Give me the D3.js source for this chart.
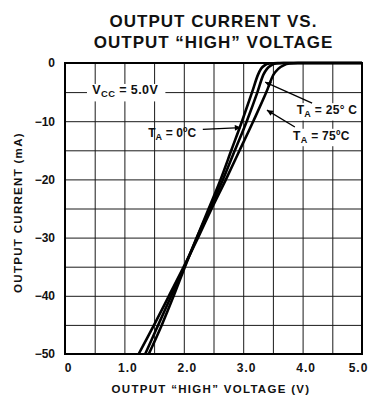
<!DOCTYPE html>
<html>
<head>
<meta charset="utf-8">
<script src="https://cdn.jsdelivr.net/npm/d3@7"></script>
<style>
  html, body { margin: 0; padding: 0; background: #fff; }
  svg { display: block; font-family: "Liberation Sans", Arial, Helvetica, sans-serif; }
</style>
</head>
<body>
<svg id="chart" width="371" height="399"></svg>
<script>
// ---- data ----
const titleLines = ["OUTPUT CURRENT VS.", "OUTPUT \u201CHIGH\u201D VOLTAGE"];
const xAxisTitle = "OUTPUT \u201CHIGH\u201D VOLTAGE (V)";
const yAxisTitle = "OUTPUT CURRENT (mA)";
const xTickValues = [0, 1, 2, 3, 4, 5];
const xTickLabels = ["0", "1.0", "2.0", "3.0", "4.0", "5.0"];
const yTickValues = [0, -10, -20, -30, -40, -50];
const yTickLabels = ["0", "\u221210", "\u221220", "\u221230", "\u221240", "\u221250"];

// output current levels (mA) shared by the three curves
const currentLevels = [-50, -45, -40, -35, -30, -25, -20, -15, -10, -5, -2, -1, -0.4, -0.1, 0, 0];
// output high voltage (V) at each current level
const volts0C  = [1.41, 1.63, 1.83, 2.02, 2.22, 2.42, 2.62, 2.80, 2.98, 3.15, 3.25, 3.30, 3.36, 3.44, 3.58, 5.0];
const volts25C = [1.35, 1.57, 1.79, 2.01, 2.22, 2.44, 2.66, 2.86, 3.06, 3.24, 3.34, 3.40, 3.47, 3.55, 3.68, 5.0];
const volts75C = [1.24, 1.50, 1.75, 2.00, 2.24, 2.47, 2.71, 2.94, 3.17, 3.39, 3.51, 3.59, 3.68, 3.78, 3.92, 5.0];
const seriesNames = ["TA = 0\u00BAC", "TA = 25\u00B0 C", "TA = 75\u00BAC"];

// ---- chart ----
const svg = d3.select("#chart");
const W = 371, H = 399;
const m = { left: 65, right: 9, top: 63, bottom: 45 };
const x = d3.scaleLinear().domain([0, 5]).range([m.left, W - m.right]);
const y = d3.scaleLinear().domain([0, -50]).range([m.top, H - m.bottom]);

svg.append("rect").attr("width", W).attr("height", H).attr("fill", "#fff");

// title
svg.append("g").selectAll("text").data(titleLines).join("text")
  .attr("x", (x(0) + x(5)) / 2)
  .attr("y", (d, i) => 27 + i * 21)
  .attr("text-anchor", "middle")
  .attr("font-size", 17).attr("font-weight", "bold")
  .attr("letter-spacing", 1)
  .attr("fill", "#111")
  .text(d => d);

// grid
const gridX = svg.append("g")
  .attr("transform", `translate(0,${y(-50)})`)
  .call(d3.axisBottom(x).ticks(10).tickSize(-(y(-50) - y(0))).tickFormat(""));
const gridY = svg.append("g")
  .attr("transform", `translate(${x(0)},0)`)
  .call(d3.axisLeft(y).ticks(10).tickSize(-(x(5) - x(0))).tickFormat(""));
[gridX, gridY].forEach(g => {
  g.select(".domain").remove();
  g.selectAll(".tick line").attr("stroke", "#1a1a1a").attr("stroke-width", 1);
});

// tick labels
const xAx = svg.append("g")
  .attr("transform", `translate(0,${y(-50)})`)
  .call(d3.axisBottom(x).tickValues(xTickValues).tickSize(0).tickPadding(9)
    .tickFormat((d, i) => xTickLabels[i]));
xAx.select(".domain").remove();
xAx.selectAll("text").attr("font-size", 12).attr("font-weight", "bold")
  .attr("letter-spacing", 1).attr("fill", "#111")
  .attr("font-family", "Liberation Sans, Arial, sans-serif")
  .attr("dx", (d, i) => i === xTickValues.length - 1 ? -4 : 3);

const yAx = svg.append("g")
  .attr("transform", `translate(${x(0)},0)`)
  .call(d3.axisLeft(y).tickValues(yTickValues).tickSize(0).tickPadding(10)
    .tickFormat((d, i) => yTickLabels[i]));
yAx.select(".domain").remove();
yAx.selectAll("text").attr("font-size", 12).attr("font-weight", "bold")
  .attr("fill", "#111").attr("font-family", "Liberation Sans, Arial, sans-serif");

// axis titles
svg.append("text")
  .attr("x", 211).attr("y", 393)
  .attr("text-anchor", "middle")
  .attr("font-size", 11.5).attr("font-weight", "bold").attr("letter-spacing", 1.3)
  .attr("fill", "#111")
  .text(xAxisTitle);
svg.append("text")
  .attr("transform", `translate(22,${(y(0) + y(-50)) / 2 + 4}) rotate(-90)`)
  .attr("text-anchor", "middle")
  .attr("font-size", 11.5).attr("font-weight", "bold").attr("letter-spacing", 1.3)
  .attr("fill", "#111")
  .text(yAxisTitle);

// curves
const allSeries = [volts0C, volts25C, volts75C].map(v => v.map((vv, i) => [vv, currentLevels[i]]));
const line = d3.line().x(d => x(d[0])).y(d => y(d[1])).curve(d3.curveMonotoneX);
svg.append("g").selectAll("path").data(allSeries).join("path")
  .attr("d", line)
  .attr("fill", "none")
  .attr("stroke", "#000")
  .attr("stroke-width", 2.6)
  .attr("stroke-linejoin", "round");

// frame
svg.append("rect")
  .attr("x", x(0)).attr("y", y(0))
  .attr("width", x(5) - x(0)).attr("height", y(-50) - y(0))
  .attr("fill", "none").attr("stroke", "#000").attr("stroke-width", 2);

// arrowhead marker
svg.append("defs").append("marker")
  .attr("id", "ah").attr("viewBox", "0 0 10 10")
  .attr("refX", 10).attr("refY", 5)
  .attr("markerWidth", 10).attr("markerHeight", 6)
  .attr("markerUnits", "userSpaceOnUse")
  .attr("orient", "auto")
  .append("path").attr("d", "M0,0 L10,5 L0,10 Z").attr("fill", "#000");

// annotations (positions in data units)
function label(g, vx, iy, main, sub, rest, size, ls) {
  const t = g.append("text")
    .attr("x", x(vx)).attr("y", y(iy))
    .attr("font-size", size).attr("font-weight", "bold").attr("fill", "#111")
    .attr("letter-spacing", ls || 0);
  t.append("tspan").text(main);
  t.append("tspan").attr("dy", 3).attr("font-size", size * 0.75).text(sub);
  t.append("tspan").attr("dy", -3).text(rest);
  return t;
}
const ann = svg.append("g");

// Vcc label with white background across the -5 mA gridline
ann.append("rect").attr("x", x(0.37)).attr("y", y(-3.6))
  .attr("width", x(1.69) - x(0.37)).attr("height", y(-6.6) - y(-3.6))
  .attr("fill", "#fff");
label(ann, 0.46, -5.35, "V", "CC", " = 5.0V", 12.5, 0.4);

// TA = 0 C
label(ann, 1.40, -12.7, "T", "A", " = 0\u00BAC", 12, 0.1);
ann.append("line")
  .attr("x1", x(2.32)).attr("y1", y(-11.4)).attr("x2", x(2.96)).attr("y2", y(-11.1))
  .attr("stroke", "#000").attr("stroke-width", 1.3).attr("marker-end", "url(#ah)");

// TA = 25 C
ann.append("rect").attr("x", x(3.86)).attr("y", y(-6.9))
  .attr("width", x(4.92) - x(3.86)).attr("height", y(-9.9) - y(-6.9)).attr("fill", "#fff");
label(ann, 3.90, -8.8, "T", "A", " = 25\u00B0 C", 12, 0.3);
ann.append("line")
  .attr("x1", x(4.16)).attr("y1", y(-6.9)).attr("x2", x(3.37)).attr("y2", y(-3.3))
  .attr("stroke", "#000").attr("stroke-width", 1.3).attr("marker-end", "url(#ah)");

// TA = 75 C
ann.append("rect").attr("x", x(3.80)).attr("y", y(-11.3))
  .attr("width", x(4.86) - x(3.80)).attr("height", y(-14.3) - y(-11.3)).attr("fill", "#fff");
label(ann, 3.84, -13.3, "T", "A", " = 75\u00BAC", 12, 0.3);
ann.append("line")
  .attr("x1", x(3.87)).attr("y1", y(-11.0)).attr("x2", x(3.40)).attr("y2", y(-8.1))
  .attr("stroke", "#000").attr("stroke-width", 1.3).attr("marker-end", "url(#ah)");
</script>
</body>
</html>
